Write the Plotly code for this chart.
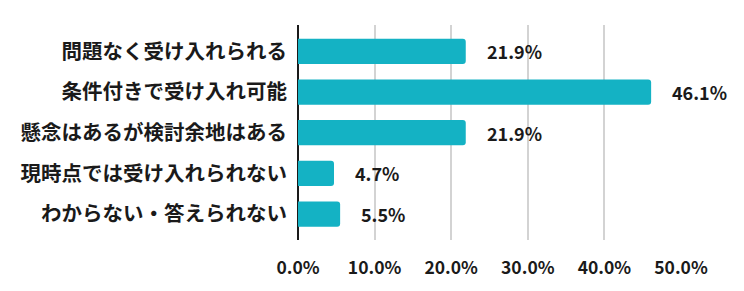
import plotly.graph_objects as go

categories = [
    "問題なく受け入れられる",
    "条件付きで受け入れ可能",
    "懸念はあるが検討余地はある",
    "現時点では受け入れられない",
    "わからない・答えられない",
]
values = [21.9, 46.1, 21.9, 4.7, 5.5]
tick_vals = [0, 10, 20, 30, 40, 50]
tick_text = ["0.0%", "10.0%", "20.0%", "30.0%", "40.0%", "50.0%"]

FONT = "Noto Sans CJK JP"
TXT = "#1a1a1a"

fig = go.Figure()
fig.add_trace(go.Bar(
    x=values,
    y=categories,
    orientation="h",
    marker=dict(color="#14B2C4", line=dict(width=0)),
    width=0.62,
    hoverinfo="skip",
))

for c, v in zip(categories, values):
    fig.add_annotation(
        x=v, y=c, xref="x", yref="y",
        text=f"{v:.1f}%",
        showarrow=False,
        xanchor="left",
        xshift=19,
        font=dict(family=FONT, size=18, color=TXT, weight=700),
    )

fig.update_layout(
    width=744, height=291,
    margin=dict(l=298, r=63, t=25, b=43),
    paper_bgcolor="white",
    plot_bgcolor="white",
    showlegend=False,
    barcornerradius=3,
    font=dict(family=FONT, color=TXT),
)
fig.update_xaxes(
    range=[0, 50],
    tickvals=tick_vals,
    ticktext=tick_text,
    tickfont=dict(family=FONT, size=17.5, color=TXT, weight=700),
    showgrid=True,
    gridcolor="#d3d3d3",
    gridwidth=1.5,
    zeroline=True,
    zerolinecolor="#1a1a1a",
    zerolinewidth=1.5,
    ticks="outside",
    ticklen=12,
    tickcolor="rgba(0,0,0,0)",
    fixedrange=True,
)
fig.update_yaxes(
    categoryorder="array",
    categoryarray=categories,
    range=[4.637, -0.647],
    tickfont=dict(family=FONT, size=20.5, color=TXT, weight=700),
    ticks="outside",
    ticklen=6,
    tickcolor="rgba(0,0,0,0)",
    showgrid=False,
    fixedrange=True,
)

fig.write_html("out.html")
